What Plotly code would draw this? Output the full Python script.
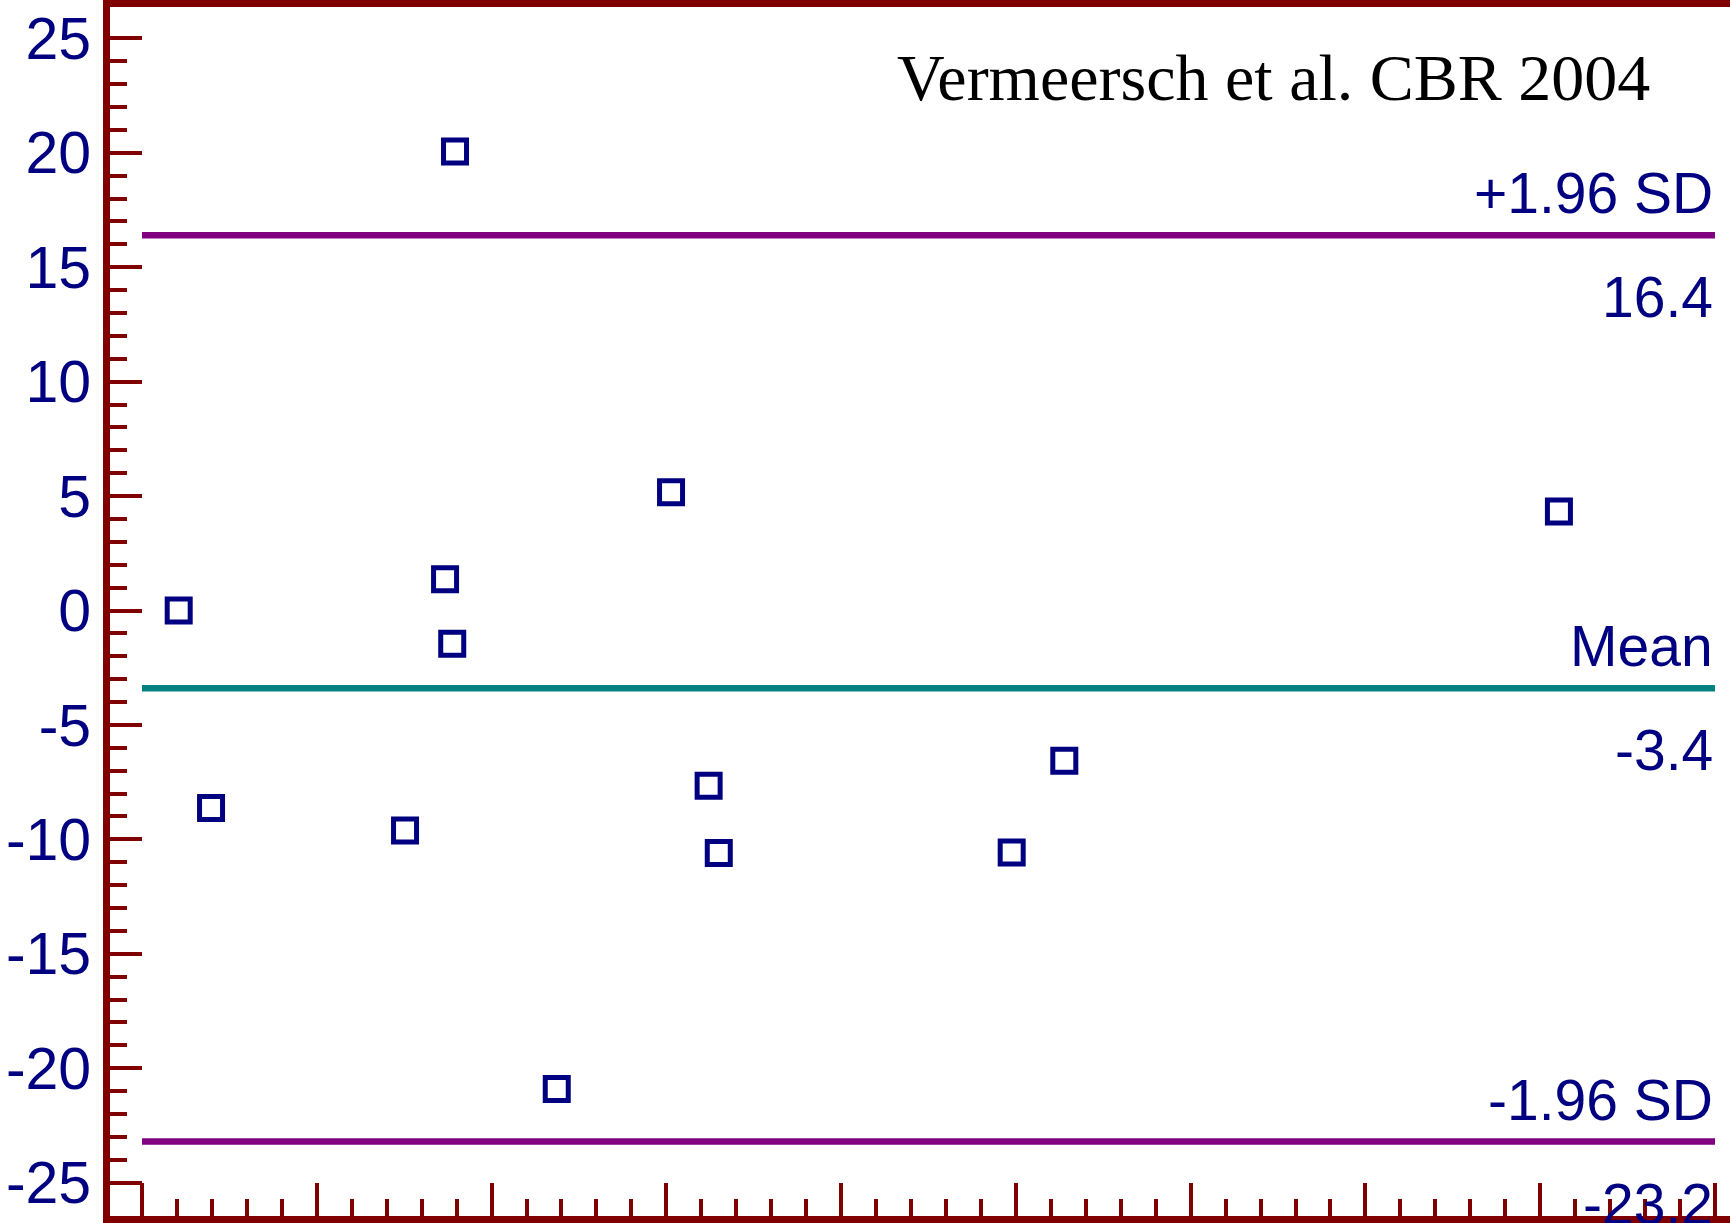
import plotly.graph_objects as go

# Bland-Altman data: mean of the two methods vs. their difference
mean_x = [2.1, 3.95, 15.05, 17.34, 17.75, 17.91, 23.73, 30.27, 32.42, 33.0, 49.76, 52.77, 81.07]
diff_y = [0.0, -8.63, -9.61, 1.37, -1.45, 20.05, -20.91, 5.17, -7.66, -10.6, -10.57, -6.57, 4.32]

# Agreement lines
line_names = ["+1.96 SD", "Mean", "-1.96 SD"]
line_values = [16.4, -3.4, -23.2]
line_colors = ["#800080", "#008080", "#800080"]

y_major = [-25, -20, -15, -10, -5, 0, 5, 10, 15, 20, 25]
y_labels = ["-25", "-20", "-15", "-10", "-5", "0", "5", "10", "15", "20", "25"]
y_minor = [v for v in range(-24, 25) if v % 5 != 0]
x_major = [0, 10, 20, 30, 40, 50, 60, 70, 80, 90]
x_minor = [v for v in range(2, 90, 2) if v % 10 != 0]

X0, X1 = 0, 90
Y0, Y1 = -25, 25

NAVY = "#000080"
MAROON = "#800000"
SANS = "Liberation Sans, Arial, sans-serif"
SERIF = "Liberation Serif, Times New Roman, serif"

W, H = 1730, 1223
# plot-area pixel bounds and the pixel positions of the axis extremes
PL, PR, PT, PB = 110, 1730, 7, 1216
PX0, PX1 = 142, 1715
PY1, PY0 = 38.3, 1182.7
kx = (X1 - X0) / (PX1 - PX0)
ky = (Y1 - Y0) / (PY0 - PY1)
x_range = [X0 - (PX0 - PL) * kx, X1 + (PR - PX1) * kx]
y_range = [Y0 - (PB - PY0) * ky, Y1 + (PY1 - PT) * ky]

fig = go.Figure()

for name, val, col in zip(line_names, line_values, line_colors):
    fig.add_trace(go.Scatter(
        x=[X0, X1], y=[val, val], mode="lines",
        line=dict(color=col, width=6.5), hoverinfo="skip", showlegend=False,
    ))

fig.add_trace(go.Scatter(
    x=mean_x, y=diff_y, mode="markers",
    marker=dict(symbol="square-open", size=23, color=NAVY, line=dict(width=5, color=NAVY)),
    showlegend=False,
))

for name, val in zip(line_names, line_values):
    fig.add_annotation(
        x=X1, y=val, xref="x", yref="y", text=name, showarrow=False,
        xanchor="right", yanchor="bottom", yshift=8,
        font=dict(family=SANS, size=57, color=NAVY),
    )
    fig.add_annotation(
        x=X1, y=val, xref="x", yref="y", text=f"{val:.1f}", showarrow=False,
        xanchor="right", yanchor="top", yshift=-28,
        font=dict(family=SANS, size=57, color=NAVY),
    )

fig.add_annotation(
    x=1652, y=H - 116, xref="paper", yref="paper", text="Vermeersch et al. CBR 2004",
    showarrow=False, xanchor="right", yanchor="bottom",
    font=dict(family=SERIF, size=66, color="black"),
)

fig.update_layout(
    width=W, height=H,
    margin=dict(l=PL, r=W - PR, t=PT, b=H - PB, pad=0),
    paper_bgcolor="white", plot_bgcolor="white",
    xaxis=dict(
        range=x_range, showgrid=False, zeroline=False,
        showline=True, linecolor=MAROON, linewidth=7, mirror=True,
        ticks="inside", tickmode="array", tickvals=x_major, ticklen=33, tickwidth=4,
        tickcolor=MAROON, showticklabels=False,
        minor=dict(tickmode="array", tickvals=x_minor, ticks="inside", ticklen=17,
                   tickwidth=4, tickcolor=MAROON, showgrid=False),
    ),
    yaxis=dict(
        range=y_range, showgrid=False, zeroline=False,
        showline=True, linecolor=MAROON, linewidth=7, mirror=False,
        ticks="inside", tickmode="array", tickvals=y_major, ticktext=y_labels,
        ticklen=32, tickwidth=4, tickcolor=MAROON,
        tickfont=dict(family=SANS, size=59, color=NAVY),
        minor=dict(tickmode="array", tickvals=y_minor, ticks="inside", ticklen=17,
                   tickwidth=4, tickcolor=MAROON, showgrid=False),
    ),
)

# paper-referenced annotation coordinates are given in pixels above; convert
for ann in fig.layout.annotations:
    if ann.xref == "paper":
        ann.x = (ann.x - PL) / (PR - PL)
        ann.y = (ann.y - (H - PB)) / (PB - PT)

fig.write_html("out.html")
